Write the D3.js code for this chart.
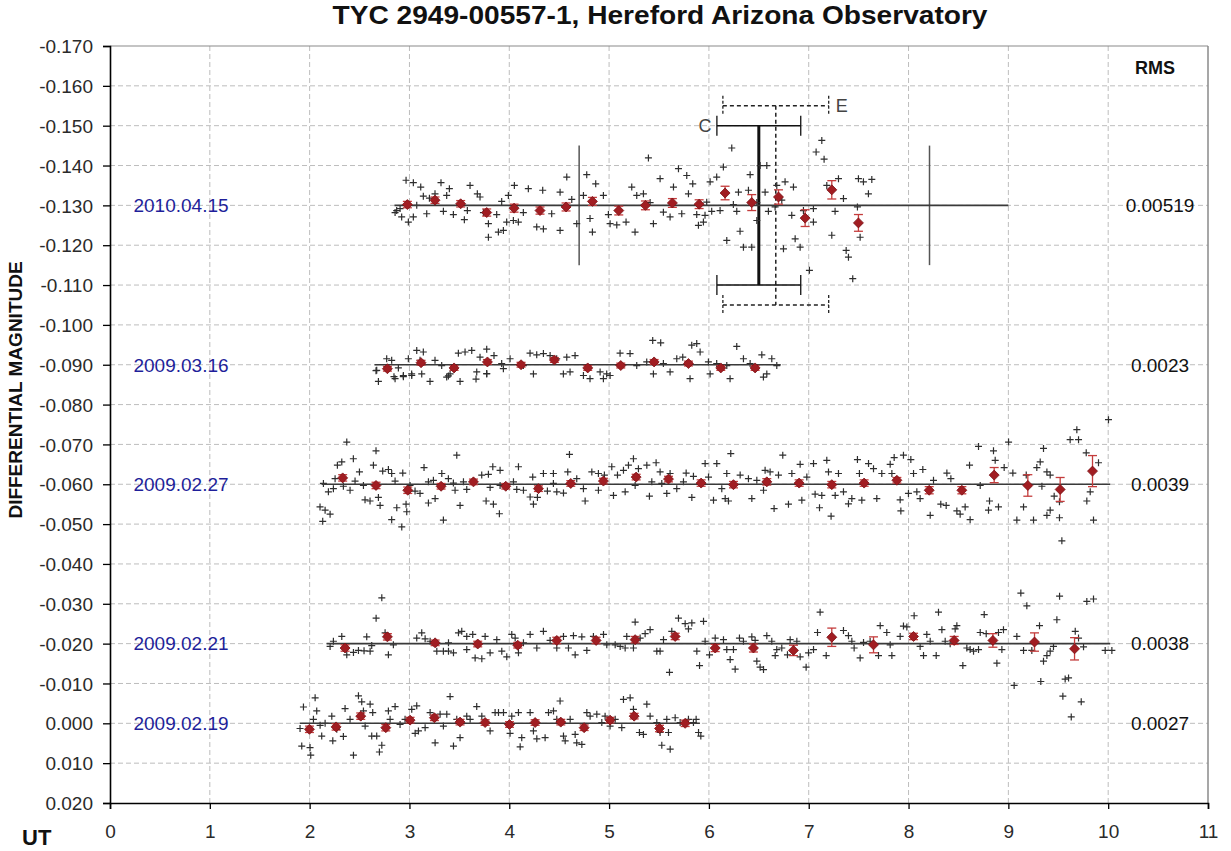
<!DOCTYPE html>
<html><head><meta charset="utf-8">
<script src="https://cdn.jsdelivr.net/npm/d3@7"></script>
<style>body{margin:0;background:#fff} svg{display:block}</style>
</head><body><svg id="c" width="1231" height="851"></svg>
<script>
// ---------- DATA ----------
const titleText = "TYC 2949-00557-1, Hereford Arizona Observatory";
const xTicks = [0,1,2,3,4,5,6,7,8,9,10,11];
const yTicks = [-0.170,-0.160,-0.150,-0.140,-0.130,-0.120,-0.110,-0.100,-0.090,-0.080,-0.070,-0.060,-0.050,-0.040,-0.030,-0.020,-0.010,0.000,0.010,0.020];
const nightNames = ["2010.04.15","2009.03.16","2009.02.27","2009.02.21","2009.02.19"];
const nightLevels = [-0.130,-0.090,-0.060,-0.020,0.000];
const rmsValues = ["0.00519","0.0023","0.0039","0.0038","0.0027"];
// mean line spans [startUT, endUT]
const lineSpans = [[2.85,9.0],[2.65,6.72],[2.12,10.02],[2.17,10.02],[1.90,5.91]];

// raw measurements [UT, mag]
const raw0 = [[2.966,-0.1363],[3.039,-0.1357],[3.113,-0.1346],[3.316,-0.1357],[3.400,-0.1342],[3.139,-0.1323],[3.200,-0.1318],[3.256,-0.1329],[3.373,-0.1325],[3.607,-0.1350],[3.680,-0.1329],[3.707,-0.1321],[2.872,-0.1287],[2.922,-0.1271],[2.989,-0.1258],[3.039,-0.1271],[3.173,-0.1279],[3.340,-0.1285],[3.440,-0.1277],[3.550,-0.1264],[3.580,-0.1287],[3.741,-0.1282],[3.791,-0.1254],[3.874,-0.1277],[3.891,-0.1233],[3.941,-0.1237],[3.791,-0.1220],[3.924,-0.1310],[3.991,-0.1325],[4.051,-0.1350],[3.974,-0.1258],[4.041,-0.1262],[4.091,-0.1258],[4.141,-0.1282],[4.191,-0.1342],[4.335,-0.1338],[4.275,-0.1246],[4.342,-0.1241],[4.509,-0.1237],[4.425,-0.1279],[4.509,-0.1333],[4.576,-0.1371],[4.626,-0.1315],[4.676,-0.1254],[4.776,-0.1377],[4.866,-0.1354],[4.743,-0.1325],[4.809,-0.1267],[4.833,-0.1233],[4.943,-0.1325],[4.993,-0.1277],[5.010,-0.1254],[5.077,-0.1251],[5.170,-0.1258],[5.227,-0.1346],[5.260,-0.1233],[5.277,-0.1325],[5.344,-0.1329],[5.394,-0.1419],[5.411,-0.1307],[5.444,-0.1254],[5.511,-0.1367],[5.544,-0.1283],[5.611,-0.1271],[5.645,-0.1346],[5.695,-0.1392],[5.728,-0.1279],[5.778,-0.1375],[5.795,-0.1329],[5.838,-0.1354],[5.878,-0.1277],[5.895,-0.1250],[5.945,-0.1258],[5.961,-0.1275],[6.012,-0.1359],[6.078,-0.1371],[6.145,-0.1396],[6.229,-0.1444],[6.028,-0.1285],[6.112,-0.1287],[6.179,-0.1212],[6.279,-0.1285],[6.312,-0.1235],[6.346,-0.1195],[6.429,-0.1195],[6.296,-0.1333],[6.396,-0.1338],[6.413,-0.1377],[6.513,-0.1400],[6.580,-0.1400],[6.480,-0.1262],[6.563,-0.1333],[6.596,-0.1285],[6.663,-0.1296],[6.680,-0.1350],[6.763,-0.1359],[6.847,-0.1346],[6.747,-0.1191],[6.830,-0.1275],[6.864,-0.1216],[6.914,-0.1195],[6.947,-0.1287],[7.007,-0.1137],[7.047,-0.1258],[7.074,-0.1434],[7.131,-0.1463],[7.154,-0.1416],[7.181,-0.1350],[7.231,-0.1225],[7.264,-0.1285],[7.298,-0.1367],[7.348,-0.1317],[7.375,-0.1187],[7.398,-0.1170],[7.441,-0.1116],[7.488,-0.1296],[7.498,-0.1367],[7.515,-0.1220],[7.548,-0.1359],[7.598,-0.1329],[7.632,-0.1365],[5.978,-0.1308],[6.245,-0.1302],[6.480,-0.1307],[6.730,-0.1313],[7.047,-0.1292],[2.856,-0.1282],[2.906,-0.1292],[3.073,-0.1300]];
const raw1 = [[2.665,-0.0885],[2.689,-0.0858],[2.845,-0.0870],[2.939,-0.0870],[3.022,-0.0877],[3.206,-0.0858],[3.390,-0.0872],[3.507,-0.0858],[3.667,-0.0864],[3.774,-0.0878],[2.672,-0.0886],[2.772,-0.0915],[2.822,-0.0911],[2.889,-0.0892],[2.989,-0.0915],[3.073,-0.0936],[3.139,-0.0932],[3.106,-0.0911],[3.256,-0.0911],[3.323,-0.0898],[3.407,-0.0877],[3.490,-0.0929],[3.557,-0.0932],[3.624,-0.0936],[3.707,-0.0919],[3.774,-0.0939],[3.847,-0.0923],[3.924,-0.0903],[4.008,-0.0915],[4.208,-0.0929],[4.275,-0.0925],[4.342,-0.0928],[4.409,-0.0923],[4.475,-0.0915],[4.576,-0.0919],[4.659,-0.0923],[4.542,-0.0877],[4.609,-0.0882],[4.743,-0.0873],[4.910,-0.0882],[4.976,-0.0877],[5.110,-0.0929],[5.210,-0.0928],[5.277,-0.0898],[5.377,-0.0907],[5.437,-0.0961],[5.517,-0.0955],[5.544,-0.0903],[5.678,-0.0915],[5.738,-0.0919],[5.828,-0.0949],[5.878,-0.0953],[5.912,-0.0932],[5.995,-0.0907],[6.078,-0.0903],[6.179,-0.0898],[6.279,-0.0946],[6.346,-0.0915],[6.413,-0.0903],[6.530,-0.0925],[6.580,-0.0877],[6.630,-0.0915],[6.680,-0.0898],[2.856,-0.0865],[2.939,-0.0873],[3.023,-0.0873],[3.123,-0.0877],[3.373,-0.0869],[3.674,-0.0882],[3.774,-0.0877],[3.941,-0.0890],[4.141,-0.0898],[4.242,-0.0877],[4.809,-0.0865],[4.943,-0.0865],[5.010,-0.0873],[5.444,-0.0877],[5.611,-0.0882],[5.811,-0.0865],[6.012,-0.0877],[6.212,-0.0865],[6.546,-0.0869]];
const raw2 = [[2.104,-0.0543],[2.155,-0.0535],[2.205,-0.0525],[2.131,-0.0507],[2.372,-0.0706],[2.438,-0.0664],[2.665,-0.0684],[2.639,-0.0648],[2.278,-0.0648],[2.322,-0.0656],[2.499,-0.0631],[2.255,-0.0614],[2.138,-0.0602],[2.188,-0.0581],[2.238,-0.0589],[2.405,-0.0585],[2.338,-0.0595],[2.455,-0.0608],[2.539,-0.0597],[2.555,-0.0561],[2.605,-0.0558],[2.689,-0.0567],[2.706,-0.0547],[2.732,-0.0633],[2.789,-0.0637],[2.856,-0.0608],[2.822,-0.0627],[2.933,-0.0628],[2.873,-0.0541],[2.966,-0.0550],[2.822,-0.0511],[2.923,-0.0493],[2.973,-0.0531],[3.056,-0.0583],[3.106,-0.0577],[3.146,-0.0642],[3.190,-0.0606],[3.240,-0.0610],[3.324,-0.0627],[3.390,-0.0614],[3.190,-0.0553],[3.257,-0.0564],[3.340,-0.0510],[3.474,-0.0673],[3.457,-0.0585],[3.541,-0.0606],[3.507,-0.0547],[3.574,-0.0587],[3.724,-0.0623],[3.791,-0.0625],[3.835,-0.0644],[3.908,-0.0635],[3.768,-0.0558],[3.841,-0.0550],[3.901,-0.0526],[3.808,-0.0592],[4.092,-0.0644],[4.042,-0.0606],[4.075,-0.0587],[4.142,-0.0585],[4.209,-0.0568],[4.242,-0.0550],[4.282,-0.0567],[4.235,-0.0618],[4.342,-0.0627],[4.442,-0.0627],[4.382,-0.0583],[4.476,-0.0581],[4.543,-0.0578],[4.603,-0.0675],[4.586,-0.0631],[4.676,-0.0614],[4.743,-0.0589],[4.760,-0.0558],[4.827,-0.0631],[4.893,-0.0627],[4.953,-0.0623],[4.893,-0.0585],[5.027,-0.0644],[5.044,-0.0572],[5.084,-0.0623],[5.144,-0.0635],[5.194,-0.0648],[5.244,-0.0664],[5.161,-0.0581],[5.294,-0.0639],[5.378,-0.0648],[5.471,-0.0654],[5.404,-0.0570],[5.511,-0.0631],[5.611,-0.0627],[5.528,-0.0602],[5.578,-0.0577],[5.678,-0.0589],[5.772,-0.0628],[5.845,-0.0620],[5.829,-0.0567],[5.962,-0.0652],[6.079,-0.0652],[6.046,-0.0560],[5.996,-0.0618],[5.261,-0.0597],[5.428,-0.0606],[5.745,-0.0606],[4.442,-0.0602],[3.908,-0.0597],[3.440,-0.0603],[3.006,-0.0597],[6.219,-0.0677],[6.129,-0.0589],[6.179,-0.0627],[6.163,-0.0564],[6.196,-0.0558],[6.313,-0.0623],[6.396,-0.0614],[6.430,-0.0564],[6.480,-0.0610],[6.547,-0.0585],[6.563,-0.0635],[6.613,-0.0631],[6.653,-0.0539],[6.697,-0.0623],[6.740,-0.0673],[6.797,-0.0550],[6.831,-0.0627],[6.914,-0.0650],[6.931,-0.0560],[6.981,-0.0618],[7.048,-0.0652],[7.064,-0.0575],[7.108,-0.0541],[7.131,-0.0572],[7.181,-0.0660],[7.198,-0.0631],[7.224,-0.0520],[7.265,-0.0572],[7.298,-0.0627],[7.348,-0.0581],[7.398,-0.0551],[7.432,-0.0564],[7.488,-0.0662],[7.508,-0.0627],[7.532,-0.0560],[7.599,-0.0652],[7.649,-0.0639],[7.682,-0.0564],[7.732,-0.0627],[7.816,-0.0650],[7.856,-0.0667],[7.833,-0.0627],[7.916,-0.0561],[7.923,-0.0533],[7.949,-0.0673],[8.023,-0.0662],[8.050,-0.0627],[7.999,-0.0577],[8.083,-0.0581],[8.143,-0.0637],[8.116,-0.0564],[8.217,-0.0522],[8.250,-0.0610],[8.323,-0.0550],[8.384,-0.0628],[8.424,-0.0614],[8.377,-0.0547],[8.484,-0.0533],[8.517,-0.0525],[8.567,-0.0543],[8.617,-0.0511],[8.611,-0.0648],[8.701,-0.0695],[8.718,-0.0597],[8.811,-0.0558],[8.801,-0.0535],[8.851,-0.0684],[8.868,-0.0660],[8.901,-0.0543],[8.958,-0.0642],[9.002,-0.0706],[9.045,-0.0628],[9.085,-0.0510],[9.152,-0.0543],[9.179,-0.0623],[9.252,-0.0510],[9.285,-0.0642],[9.319,-0.0656],[9.352,-0.0690],[9.336,-0.0595],[9.386,-0.0631],[9.419,-0.0623],[9.386,-0.0522],[9.419,-0.0535],[9.459,-0.0570],[9.512,-0.0516],[9.536,-0.0458],[9.512,-0.0556],[9.619,-0.0712],[9.686,-0.0737],[9.703,-0.0712],[9.780,-0.0679],[9.786,-0.0558],[9.820,-0.0581],[9.853,-0.0510],[9.903,-0.0654],[10.003,-0.0762]];
const raw3 = [[2.205,-0.0193],[2.238,-0.0206],[2.322,-0.0218],[2.372,-0.0172],[2.439,-0.0178],[2.489,-0.0183],[2.545,-0.0182],[2.606,-0.0181],[2.572,-0.0217],[2.622,-0.0195],[2.666,-0.0264],[2.723,-0.0315],[2.756,-0.0227],[2.789,-0.0172],[2.839,-0.0197],[3.073,-0.0214],[3.123,-0.0227],[3.157,-0.0212],[3.207,-0.0206],[3.274,-0.0181],[3.340,-0.0181],[3.391,-0.0181],[3.441,-0.0177],[3.391,-0.0202],[3.491,-0.0227],[3.524,-0.0231],[3.574,-0.0218],[3.634,-0.0223],[3.574,-0.0185],[3.658,-0.0164],[3.725,-0.0162],[3.758,-0.0218],[3.808,-0.0177],[3.875,-0.0210],[3.925,-0.0181],[3.975,-0.0167],[4.025,-0.0223],[4.059,-0.0214],[4.092,-0.0177],[4.142,-0.0202],[4.209,-0.0223],[4.276,-0.0189],[4.342,-0.0231],[4.409,-0.0208],[4.476,-0.0189],[4.543,-0.0218],[4.593,-0.0189],[4.643,-0.0220],[4.660,-0.0172],[4.727,-0.0217],[4.777,-0.0183],[4.843,-0.0218],[4.944,-0.0223],[4.977,-0.0197],[5.061,-0.0197],[5.111,-0.0193],[5.161,-0.0189],[5.177,-0.0218],[5.244,-0.0189],[5.261,-0.0254],[5.311,-0.0214],[5.361,-0.0225],[5.411,-0.0235],[5.478,-0.0181],[5.511,-0.0181],[5.545,-0.0210],[5.605,-0.0128],[5.628,-0.0231],[5.695,-0.0264],[5.762,-0.0250],[5.829,-0.0252],[5.795,-0.0237],[5.879,-0.0181],[5.906,-0.0145],[5.946,-0.0256],[5.962,-0.0206],[6.006,-0.0172],[6.063,-0.0214],[6.146,-0.0210],[6.213,-0.0160],[6.263,-0.0136],[6.179,-0.0185],[6.246,-0.0185],[6.306,-0.0214],[6.346,-0.0206],[6.430,-0.0217],[6.463,-0.0208],[6.480,-0.0156],[6.513,-0.0141],[6.547,-0.0135],[6.580,-0.0220],[6.630,-0.0206],[6.680,-0.0185],[6.730,-0.0189],[6.664,-0.0170],[6.787,-0.0172],[6.814,-0.0210],[6.881,-0.0206],[6.914,-0.0167],[6.974,-0.0141],[6.998,-0.0177],[7.048,-0.0185],[7.088,-0.0228],[7.114,-0.0279],[7.175,-0.0170],[7.348,-0.0233],[7.398,-0.0220],[7.432,-0.0206],[7.455,-0.0189],[7.515,-0.0164],[7.549,-0.0203],[7.615,-0.0206],[7.699,-0.0170],[7.716,-0.0245],[7.782,-0.0228],[7.833,-0.0170],[7.816,-0.0197],[7.916,-0.0218],[7.949,-0.0244],[7.983,-0.0242],[8.056,-0.0270],[8.116,-0.0193],[8.150,-0.0170],[8.183,-0.0223],[8.217,-0.0206],[8.277,-0.0170],[8.300,-0.0279],[8.334,-0.0235],[8.367,-0.0206],[8.417,-0.0200],[8.467,-0.0237],[8.484,-0.0245],[8.544,-0.0145],[8.584,-0.0189],[8.617,-0.0185],[8.651,-0.0181],[8.701,-0.0185],[8.758,-0.0273],[8.718,-0.0228],[8.778,-0.0225],[8.885,-0.0151],[8.901,-0.0228],[8.951,-0.0235],[8.935,-0.0185],[9.058,-0.0095],[9.085,-0.0218],[9.125,-0.0327],[9.185,-0.0295],[9.152,-0.0183],[9.235,-0.0183],[9.312,-0.0245],[9.325,-0.0105],[9.352,-0.0156],[9.386,-0.0170],[9.419,-0.0181],[9.452,-0.0193],[9.486,-0.0260],[9.513,-0.0319],[9.569,-0.0111],[9.603,-0.0114],[9.546,-0.0068],[9.670,-0.0231],[9.703,-0.0214],[9.753,-0.0192],[9.786,-0.0306],[9.853,-0.0312],[9.970,-0.0183],[10.037,-0.0183],[9.630,-0.0016],[9.730,-0.0054]];
const raw4 = [[1.938,-0.0041],[2.055,-0.0064],[2.071,-0.0031],[1.904,0.0013],[1.921,0.0057],[2.004,0.0061],[2.011,0.0080],[2.038,-0.0010],[2.105,0.0005],[2.121,0.0032],[2.155,0.0000],[2.222,-0.0018],[2.232,0.0044],[2.272,0.0015],[2.338,0.0033],[2.355,-0.0037],[2.439,0.0080],[2.405,-0.0010],[2.489,-0.0069],[2.522,-0.0054],[2.539,-0.0031],[2.606,-0.0048],[2.632,-0.0027],[2.556,0.0007],[2.622,0.0032],[2.672,0.0032],[2.699,0.0072],[2.723,0.0055],[2.789,-0.0031],[2.806,-0.0010],[2.856,-0.0042],[2.906,0.0003],[2.956,-0.0010],[3.023,-0.0035],[3.073,-0.0044],[3.057,0.0025],[3.090,0.0019],[3.157,0.0011],[3.207,-0.0027],[3.257,0.0049],[3.307,-0.0023],[3.340,0.0007],[3.407,-0.0067],[3.374,-0.0023],[3.441,0.0057],[3.474,-0.0010],[3.507,0.0036],[3.574,-0.0018],[3.608,-0.0010],[3.674,-0.0042],[3.725,-0.0018],[3.808,0.0019],[3.858,-0.0027],[3.892,-0.0027],[3.942,-0.0027],[4.008,0.0025],[4.025,-0.0018],[4.092,-0.0027],[4.109,0.0059],[4.125,0.0036],[4.209,-0.0027],[4.242,0.0019],[4.276,0.0039],[4.359,0.0036],[4.393,-0.0027],[4.443,-0.0031],[4.509,-0.0056],[4.476,-0.0010],[4.543,0.0032],[4.560,0.0044],[4.610,-0.0010],[4.660,0.0028],[4.676,0.0049],[4.727,0.0053],[4.777,-0.0027],[4.810,-0.0018],[4.877,-0.0023],[4.927,-0.0002],[4.960,-0.0018],[5.010,0.0007],[5.061,-0.0010],[5.127,0.0011],[5.144,-0.0060],[5.211,-0.0064],[5.244,-0.0035],[5.304,0.0023],[5.344,0.0028],[5.378,-0.0048],[5.411,-0.0018],[5.478,-0.0002],[5.511,0.0023],[5.528,0.0055],[5.578,-0.0010],[5.595,0.0023],[5.612,0.0065],[5.662,-0.0014],[5.712,-0.0002],[5.795,-0.0010],[5.845,-0.0002],[5.896,0.0023],[5.919,0.0032],[5.872,-0.0010]];

// binned means [UT, mag, error]
const bins0 = [[2.979,-0.1302,0.0008],[3.256,-0.1313,0.0008],[3.513,-0.1304,0.0008],[3.774,-0.1282,0.0009],[4.048,-0.1293,0.0010],[4.308,-0.1287,0.0009],[4.569,-0.1296,0.0010],[4.833,-0.1310,0.0010],[5.097,-0.1287,0.0011],[5.364,-0.1300,0.0011],[5.634,-0.1306,0.0011],[5.902,-0.1303,0.0011],[6.162,-0.1331,0.0017],[6.429,-0.1307,0.0020],[6.697,-0.1321,0.0018],[6.964,-0.1268,0.0021],[7.231,-0.1339,0.0023],[7.498,-0.1256,0.0021]];
const bins1 = [[2.779,-0.0890,0.0006],[3.116,-0.0905,0.0006],[3.447,-0.0892,0.0006],[3.781,-0.0907,0.0006],[4.118,-0.0900,0.0006],[4.452,-0.0912,0.0006],[4.786,-0.0892,0.0006],[5.117,-0.0898,0.0006],[5.451,-0.0907,0.0006],[5.795,-0.0903,0.0006],[6.119,-0.0892,0.0006],[6.463,-0.0892,0.0006]];
const bins2 = [[2.331,-0.0616,0.0008],[2.665,-0.0597,0.0008],[2.983,-0.0585,0.0008],[3.317,-0.0595,0.0007],[3.641,-0.0606,0.0007],[3.965,-0.0595,0.0007],[4.292,-0.0589,0.0007],[4.616,-0.0602,0.0007],[4.943,-0.0608,0.0007],[5.271,-0.0618,0.0007],[5.595,-0.0613,0.0007],[5.922,-0.0603,0.0008],[6.246,-0.0599,0.0008],[6.580,-0.0606,0.0008],[6.904,-0.0603,0.0008],[7.231,-0.0599,0.0008],[7.555,-0.0603,0.0008],[7.883,-0.0610,0.0007],[8.207,-0.0585,0.0009],[8.534,-0.0585,0.0009],[8.858,-0.0623,0.0019],[9.195,-0.0597,0.0027],[9.519,-0.0587,0.0030],[9.843,-0.0633,0.0039]];
const bins3 = [[2.355,-0.0189,0.0008],[2.779,-0.0217,0.0008],[3.257,-0.0202,0.0007],[3.684,-0.0199,0.0007],[4.085,-0.0196,0.0007],[4.476,-0.0208,0.0008],[4.870,-0.0208,0.0008],[5.261,-0.0210,0.0008],[5.662,-0.0218,0.0008],[6.063,-0.0189,0.0009],[6.446,-0.0189,0.0010],[6.847,-0.0183,0.0013],[7.231,-0.0216,0.0023],[7.649,-0.0197,0.0020],[8.050,-0.0218,0.0008],[8.457,-0.0208,0.0010],[8.845,-0.0208,0.0017],[9.262,-0.0204,0.0023],[9.663,-0.0187,0.0028]];
const bins4 = [[1.998,0.0015,0.0008],[2.265,0.0009,0.0008],[2.512,-0.0018,0.0008],[2.763,0.0011,0.0008],[3.006,-0.0008,0.0007],[3.250,-0.0014,0.0007],[3.507,-0.0003,0.0007],[3.758,-0.0002,0.0007],[4.002,0.0003,0.0007],[4.259,-0.0002,0.0007],[4.516,-0.0003,0.0007],[4.750,0.0011,0.0007],[5.010,-0.0008,0.0007],[5.251,-0.0018,0.0007],[5.505,0.0013,0.0008],[5.762,0.0000,0.0008]];

// transit prediction markers for 2010.04.15 : [UT, magTop, magBottom]
const ingressEgress = [[4.70,-0.145,-0.115],[8.21,-0.145,-0.115]];
const centerC = {ut: 6.50, top: -0.150, bottom: -0.110, half: 0.42, label: "C"};
const centerE = {ut: 6.67, top: -0.155, bottom: -0.105, half: 0.53, label: "E"};

// ---------- DRAW ----------
const svg = d3.select("#c");
const FONT = "'Liberation Sans', Arial, Helvetica, sans-serif";
const x = d3.scaleLinear().domain([0, 11]).range([110, 1208]);
const y = d3.scaleLinear().domain([-0.170, 0.020]).range([46, 803]);
const fmtY = v => { const r = Math.round(v*1000)/1000; return (r < 0 ? "-" : "") + Math.abs(r).toFixed(3); };

// grid
const grid = svg.append("g");
grid.selectAll("line.gy").data(yTicks.slice(1, -1)).join("line")
  .attr("x1", x(0)).attr("x2", x(11)).attr("y1", d => y(d)).attr("y2", d => y(d))
  .attr("stroke", "#bdbdbd").attr("stroke-width", 1).attr("stroke-dasharray", "5,3");
grid.selectAll("line.gx").data(xTicks.slice(1, -1)).join("line")
  .attr("y1", y(-0.170)).attr("y2", y(0.020)).attr("x1", d => x(d)).attr("x2", d => x(d))
  .attr("stroke", "#bdbdbd").attr("stroke-width", 1).attr("stroke-dasharray", "5,3");
// top & right border
svg.append("line").attr("x1", x(0)).attr("x2", x(11)).attr("y1", y(-0.170)).attr("y2", y(-0.170)).attr("stroke", "#8a8a8a").attr("stroke-width", 1.2);
svg.append("line").attr("x1", x(11)).attr("x2", x(11)).attr("y1", y(-0.170)).attr("y2", y(0.020)).attr("stroke", "#8a8a8a").attr("stroke-width", 1.5);

// transit marks
const ann = svg.append("g");
ann.selectAll("line.ie").data(ingressEgress).join("line")
  .attr("x1", d => x(d[0])).attr("x2", d => x(d[0])).attr("y1", d => y(d[1])).attr("y2", d => y(d[2]))
  .attr("stroke", "#555").attr("stroke-width", 1.5);
function hBar(c, dashed, width) {
  const g = ann.append("g").attr("stroke", dashed ? "#222" : "#111");
  const da = dashed ? "4,3" : null;
  g.append("line").attr("x1", x(c.ut)).attr("x2", x(c.ut)).attr("y1", y(c.top)).attr("y2", y(c.bottom))
    .attr("stroke-width", width).attr("stroke-dasharray", da);
  [c.top, c.bottom].forEach(m => {
    g.append("line").attr("x1", x(c.ut - c.half)).attr("x2", x(c.ut + c.half)).attr("y1", y(m)).attr("y2", y(m))
      .attr("stroke-width", 1.5).attr("stroke-dasharray", da);
    [c.ut - c.half, c.ut + c.half].forEach(u => {
      g.append("line").attr("x1", x(u)).attr("x2", x(u)).attr("y1", y(m) - 10).attr("y2", y(m) + 10)
        .attr("stroke-width", 1.3).attr("stroke-dasharray", dashed ? "3,2" : null);
    });
  });
}
hBar(centerE, true, 1.5);
hBar(centerC, false, 3);
ann.append("text").attr("x", x(centerC.ut - centerC.half) - 12).attr("y", y(centerC.top) + 6)
  .attr("text-anchor", "middle").attr("font-family", FONT).attr("font-size", 18).attr("fill", "#444").text(centerC.label);
ann.append("text").attr("x", x(centerE.ut + centerE.half) + 13).attr("y", y(centerE.top) + 6)
  .attr("text-anchor", "middle").attr("font-family", FONT).attr("font-size", 18).attr("fill", "#444").text(centerE.label);

// raw points
const rawSets = [raw0, raw1, raw2, raw3, raw4];
const pts = svg.append("g").attr("stroke", "#2e2e2e").attr("stroke-width", 1.2).attr("fill", "none");
rawSets.forEach(set => {
  pts.selectAll(null).data(set).join("path")
    .attr("d", d => `M${x(d[0]) - 3.5},${y(d[1])}h7M${x(d[0])},${y(d[1]) - 3.5}v7`);
});

// mean lines
svg.append("g").selectAll("line").data(lineSpans).join("line")
  .attr("x1", d => x(d[0])).attr("x2", d => x(d[1]))
  .attr("y1", (d, i) => y(nightLevels[i])).attr("y2", (d, i) => y(nightLevels[i]))
  .attr("stroke", "#3a3a3a").attr("stroke-width", 1.6);

// bins with error bars
const binSets = [bins0, bins1, bins2, bins3, bins4];
const bg = svg.append("g");
binSets.forEach(set => {
  const e = bg.append("g").attr("stroke", "#c43c3c").attr("stroke-width", 1.3);
  e.selectAll(null).data(set).join("line")
    .attr("x1", d => x(d[0])).attr("x2", d => x(d[0])).attr("y1", d => y(d[1] - d[2])).attr("y2", d => y(d[1] + d[2]));
  e.selectAll(null).data(set.flatMap(d => [[d[0], d[1] - d[2]], [d[0], d[1] + d[2]]])).join("line")
    .attr("x1", d => x(d[0]) - 4.5).attr("x2", d => x(d[0]) + 4.5).attr("y1", d => y(d[1])).attr("y2", d => y(d[1]));
  bg.append("g").selectAll(null).data(set).join("path")
    .attr("d", d => `M${x(d[0])},${y(d[1]) - 5}l5,5l-5,5l-5,-5z`)
    .attr("fill", "#a11d22").attr("stroke", "#7a1015").attr("stroke-width", 0.8);
});

// axes
const ax = svg.append("g").attr("transform", `translate(0,${y(0.020)})`)
  .call(d3.axisBottom(x).tickValues(xTicks).tickSize(6).tickPadding(12).tickFormat(d3.format("d")));
const ay = svg.append("g").attr("transform", `translate(${x(0)},0)`)
  .call(d3.axisLeft(y).tickValues(yTicks).tickSize(7).tickPadding(10).tickFormat(fmtY));
[ax, ay].forEach(a => {
  a.select(".domain").attr("stroke", "#000").attr("stroke-width", 1.6);
  a.selectAll(".tick line").attr("stroke", "#000").attr("stroke-width", 1.3);
  a.selectAll(".tick text").attr("font-family", FONT).attr("font-size", 19).attr("fill", "#2a2a2a");
});
ax.selectAll(".tick text").attr("dy", "0.9em");
ay.selectAll(".tick text").attr("dy", "0.35em");

// date labels
svg.append("g").selectAll("text").data(nightNames).join("text")
  .attr("x", 181).attr("y", (d, i) => y(nightLevels[i])).attr("dy", "0.36em")
  .attr("text-anchor", "middle").attr("font-family", FONT).attr("font-size", 19).attr("fill", "#1f1f9a")
  .text(d => d);

// RMS
svg.append("text").attr("x", 1155).attr("y", 74).attr("text-anchor", "middle")
  .attr("font-family", FONT).attr("font-size", 18).attr("font-weight", "bold").attr("fill", "#111").text("RMS");
svg.append("g").selectAll("text").data(rmsValues).join("text")
  .attr("x", 1160).attr("y", (d, i) => y(nightLevels[i])).attr("dy", "0.36em")
  .attr("text-anchor", "middle").attr("font-family", FONT).attr("font-size", 19).attr("fill", "#111")
  .text(d => d);

// title and axis titles
svg.append("text").attr("x", 660).attr("y", 24).attr("text-anchor", "middle")
  .attr("font-family", FONT).attr("font-size", 25).attr("font-weight", "bold").attr("fill", "#111")
  .attr("textLength", 655).attr("lengthAdjust", "spacingAndGlyphs").text(titleText);
svg.append("text").attr("transform", `translate(22,390) rotate(-90)`).attr("text-anchor", "middle")
  .attr("font-family", FONT).attr("font-size", 19).attr("font-weight", "bold").attr("fill", "#111").text("DIFFERENTIAL MAGNITUDE");
svg.append("text").attr("x", 22).attr("y", 845)
  .attr("font-family", FONT).attr("font-size", 22).attr("font-weight", "bold").attr("fill", "#111").text("UT");
</script>
</body></html>
